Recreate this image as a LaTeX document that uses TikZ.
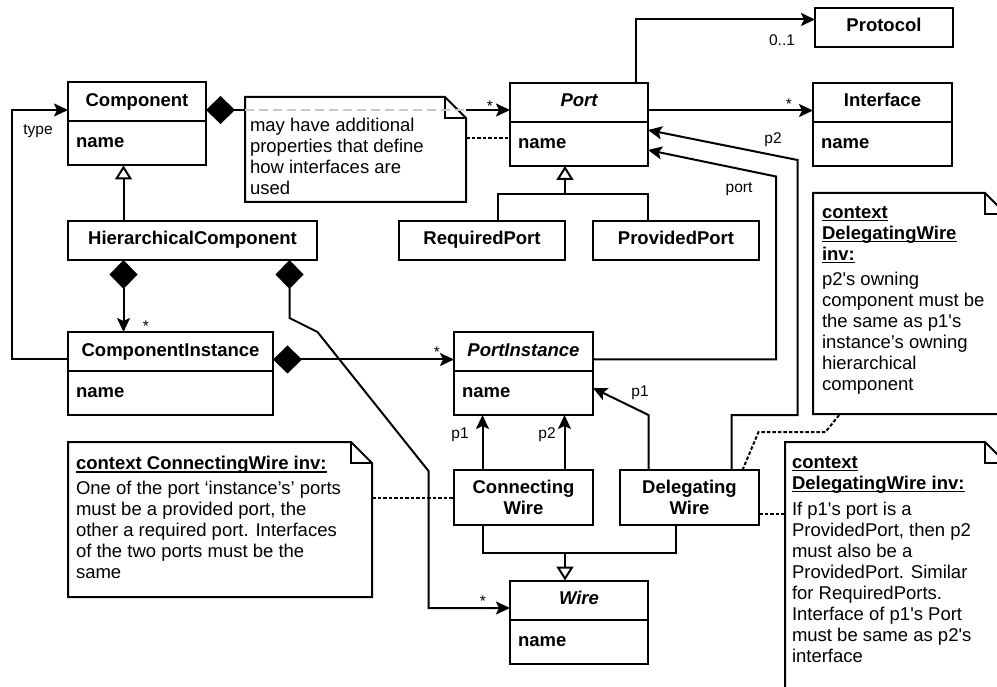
\documentclass[tikz,border=0pt]{standalone}
\usepackage{fontspec}
\setmainfont{Liberation Sans}[Ligatures=TeXOff]
\usepackage{tikz}
\usetikzlibrary{arrows.meta, positioning}
\definecolor{umlGrau}{HTML}{C8C8C8}

% bold, underlined heading of an OCL constraint
\newcommand{\oclhead}[1]{%
  \setbox0\hbox{\bfseries #1}%
  \rlap{\rule[-3.2pt]{\wd0}{1.4pt}}\box0}

% outline of a note with its folded top-right corner
\newcommand{\notefold}[1]{%
  \draw[noteframe] (#1.north west) -- ([xshift=-21pt]#1.north east)
    -- ([yshift=-21pt]#1.north east) -- (#1.south east)
    -- (#1.south west) -- cycle;
  \draw[noteframe] ([xshift=-21pt]#1.north east)
    |- ([yshift=-21pt]#1.north east);}

\begin{document}
\begin{tikzpicture}[x=1pt, y=-1pt,
  every node/.style={font=\fontsize{18.5}{21}\selectfont,
                     inner sep=0pt, outer sep=0pt},
  classbox/.style={draw, line width=2pt, fill=white,
                   font=\fontsize{18.5}{21}\selectfont\bfseries},
  classhead/.style={classbox, minimum width=#1, minimum height=39pt,
                    text height=13pt, text depth=4pt},
  abstracthead/.style={classhead=#1,
                       font=\fontsize{18.5}{21}\selectfont\bfseries\itshape},
  classattr/.style={classbox, text width=#1, inner xsep=8pt,
                    minimum height=44pt, align=left,
                    text height=13pt, text depth=4pt},
  wirekind/.style={classbox, minimum width=139pt, minimum height=55pt,
                   align=center},
  assoc/.style={draw, line width=2pt,
                -{Stealth[length=14pt, width=13pt, inset=3pt]}},
  owns/.style={draw, line width=2pt,
               {Diamond[length=29pt, width=28pt]}-{Stealth[length=14pt, width=13pt, inset=3pt]}},
  isa/.style={draw, line width=2pt,
              -{Triangle[open, fill=white, length=14pt, width=17pt]}},
  joinline/.style={draw, line width=2pt},
  noteframe/.style={draw, line width=2pt},
  notebox/.style={fill=white, anchor=north west},
  notetext/.style={anchor=north west, align=left},
  pinline/.style={draw, line width=2pt, dash pattern=on 3.5pt off 2pt},
  throughline/.style={draw=umlGrau, line width=1.6pt, dash pattern=on 9pt off 5pt},
  mult/.style={font=\fontsize{15.5}{18}\selectfont},
]
\useasboundingbox (0,0) rectangle (997,687);
\clip (0,0) rectangle (997,687);

% --- classes ---------------------------------------------------------
\node[classhead=138pt] (comp) at (137,102) {Component};
\node[classattr=122pt, below=0pt of comp] (compattr) {name};

\node[abstracthead=138pt] (port) at (579,102.5) {Port};
\node[classattr=122pt, below=0pt of port] (portattr) {name};

\node[classhead=139pt] (iface) at (882.5,102.5) {Interface};
\node[classattr=123pt, below=0pt of iface] (ifaceattr) {name};

\node[classhead=138pt] (proto) at (884,27.5) {Protocol};

\node[classhead=249pt] (hc)       at (192.5,240.5) {HierarchicalComponent};
\node[classhead=166pt] (reqport)  at (482,240.5)   {RequiredPort};
\node[classhead=166pt] (provport) at (676,240.5)   {ProvidedPort};

\node[classhead=205pt] (ci) at (170.5,351.5) {ComponentInstance};
\node[classattr=189pt, below=0pt of ci] (ciattr) {name};

\node[abstracthead=139pt] (pinst) at (523.5,351.5) {PortInstance};
\node[classattr=123pt, below=0pt of pinst] (piattr) {name};

\node[wirekind] (cw) at (523.5,497.5) {Connecting\\Wire};
\node[wirekind] (dw) at (689.5,497.5) {Delegating\\Wire};

\node[abstracthead=138pt] (wire) at (579,600) {Wire};
\node[classattr=122pt, below=0pt of wire] (wireattr) {name};

% --- associations ----------------------------------------------------
\coordinate (partsrc) at ([yshift=-8pt]comp.east);
\draw[owns] (partsrc) -- (partsrc -| port.west);
\node[mult] (portmult) at (490,106) {*};

\draw[assoc] ([yshift=-8pt]ci.west) -- ++(-56,0) |- ([yshift=-8pt]comp.west);
\node[mult] (typelbl) at (38,131) {type};

\draw[assoc] ([xshift=57pt]port.north) |- ([yshift=8pt]proto.west);
\node[mult] (protomult) at (782,40) {0..1};

\draw[assoc] ([yshift=-8pt]port.east) -- ([yshift=-8pt]iface.west);
\node[mult] (ifacemult) at (789,104) {*};

\draw[owns] ([xshift=-69pt]hc.south) -- ([xshift=-69pt]hc.south |- ci.north);
\node[mult] (cimult) at (146,326) {*};

\draw[owns] ([xshift=97pt]hc.south) -- ++(0,58) -- ++(28,14) -- ++(111,139)
  |- ([yshift=-8pt]wire.west);
\node[mult] (wiremult) at (483,601) {*};

\draw[owns] ([yshift=-8pt]ci.east) -- ([yshift=-8pt]pinst.west);
\node[mult] (pimult) at (437,352) {*};

\draw[assoc] ([yshift=-8pt]pinst.east) -- ++(183,0) -- ++(0,-183)
  -- ([yshift=-6pt]portattr.east);
\node[mult] (portlbl) at (739,189) {port};

\draw[assoc] ([xshift=42pt]dw.north) -- ++(0,-55) -- ++(66,0) -- ++(0,-255)
  -- ([yshift=14pt]portattr.east);
\node[mult] (dwp2) at (773,140) {p2};

\draw[assoc] ([xshift=-41pt]dw.north) -- ++(0,-55) -- ([yshift=5pt]piattr.east);
\node[mult] (dwp1) at (640,393) {p1};

\draw[assoc] ([xshift=-41pt]cw.north) -- ([xshift=-41pt]cw.north |- piattr.south);
\node[mult] (cwp1) at (460,435) {p1};
\draw[assoc] ([xshift=41pt]cw.north) -- ([xshift=41pt]cw.north |- piattr.south);
\node[mult] (cwp2) at (547,435) {p2};

% --- generalisations -------------------------------------------------
\draw[isa] ([xshift=-69pt]hc.north) -- ([xshift=-69pt]hc.north |- compattr.south);

\coordinate (portfork) at ([xshift=-14pt, yshift=-28pt]portattr.south);
\draw[joinline] ([xshift=16pt]reqport.north) |- (portfork)
  -| ([xshift=-28pt]provport.north);
\draw[isa] (portfork) -- (portfork |- portattr.south);

\coordinate (wirefork) at ([xshift=-14pt, yshift=28pt]wire.north);
\draw[joinline] ([xshift=-41pt]cw.south) |- (wirefork)
  -| ([xshift=-14pt]dw.south);
\draw[isa] (wirefork) -- (wirefork |- wire.north);

% --- notes -----------------------------------------------------------
\node[notebox, minimum width=221pt, minimum height=105pt] (usagenote) at (245,97) {};
\notefold{usagenote}
\node[notetext] (usagetext) at ([shift={(5,21)}]usagenote.north west)
  {may have additional\\properties that define\\how interfaces are\\used};
\draw[throughline] (partsrc -| usagenote.west) -- (partsrc -| usagenote.east);
\coordinate (usagepin) at ([yshift=11pt]usagenote.east);
\draw[pinline] (usagepin) -- (usagepin -| portattr.west);

\node[notebox, minimum width=304pt, minimum height=155pt] (wirenote) at (68,442) {};
\notefold{wirenote}
\node[notetext] (wiretext) at ([shift={(8,14)}]wirenote.north west)
  {\oclhead{context ConnectingWire inv:}\\[4pt]
   One of the port ‘instance’s’ ports\\
   must be a provided port, the\\
   other a required port. Interfaces\\
   of the two ports must be the\\
   same};
\draw[pinline] (cw.west -| wirenote.east) -- (cw.west);

\node[notebox, minimum width=193pt, minimum height=221pt] (owningnote) at (813,193) {};
\notefold{owningnote}
\node[notetext] (owningtext) at ([shift={(9,13)}]owningnote.north west)
  {\oclhead{context}\\
   \oclhead{DelegatingWire}\\
   \oclhead{inv:}\\[4pt]
   p2's owning\\
   component must be\\
   the same as p1's\\
   instance’s owning\\
   hierarchical\\
   component};
\draw[pinline] ([xshift=53pt]dw.north) -- ++(16,-38) -- ++(67,0)
  -- ([xshift=27pt]owningnote.south west);

\node[notebox, minimum width=221pt, minimum height=260pt] (ifacenote) at (785,442) {};
\notefold{ifacenote}
\node[notetext] (ifacetext) at ([shift={(7,14)}]ifacenote.north west)
  {\oclhead{context}\\
   \oclhead{DelegatingWire inv:}\\[5pt]
   If p1's port is a\\
   ProvidedPort, then p2\\
   must also be a\\
   ProvidedPort. Similar\\
   for RequiredPorts.\\
   Interface of p1's Port\\
   must be same as p2's\\
   interface};
\coordinate (dwpin) at ([yshift=-16pt]dw.east);
\draw[pinline] (dwpin) -- (dwpin -| ifacenote.west);
\end{tikzpicture}
\end{document}
